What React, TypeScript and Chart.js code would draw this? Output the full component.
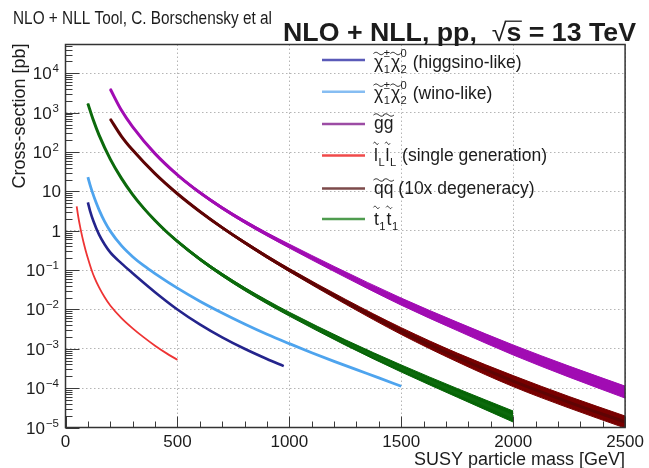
import React, { useEffect, useRef } from "react";
import { Chart, registerables } from "chart.js";

Chart.register(...registerables);

// ---------------- data ----------------
const xTicks = [0, 500, 1000, 1500, 2000, 2500];
const yDecades = [1e-5, 1e-4, 1e-3, 1e-2, 1e-1, 1, 10, 100, 1000, 10000];
const yTickBase = ["10", "10", "10", "10", "10", "1", "10", "10", "10", "10"];
const yTickExp = ["\u22125", "\u22124", "\u22123", "\u22122", "\u22121", "", "", "2", "3", "4"];

// chi1+- chi2^0 higgsino-like
const higgsinoMass = [100, 110, 125, 150, 175, 200, 250, 300, 400, 500, 600, 700, 800, 900, 975];
const higgsinoXsec = [5.25, 3.16, 1.74, 0.794, 0.447, 0.282, 0.148, 0.0832, 0.0275, 0.01, 0.00417, 0.00195, 0.001, 0.00055, 0.000363];

// chi1+- chi2^0 wino-like
const winoMass = [100, 110, 120, 135, 150, 175, 200, 250, 300, 350, 400, 500, 600, 700, 800, 900, 1000, 1100, 1200, 1300, 1400, 1500];
const winoXsec = [22.9, 14.5, 9.55, 5.5, 3.39, 1.7, 0.977, 0.417, 0.219, 0.129, 0.0813, 0.0347, 0.0162, 0.00813, 0.00427, 0.00234, 0.00135, 0.000794, 0.000479, 0.000295, 0.000182, 0.000112];

// gluino pair
const gluinoMass = [200, 250, 300, 400, 500, 600, 700, 800, 900, 1000, 1200, 1500, 1750, 2000, 2250, 2500];
const gluinoXsec = [3981, 1148, 437, 91.2, 26.3, 9.33, 3.8, 1.7, 0.813, 0.407, 0.107, 0.0158, 0.00372, 0.000933, 0.000263, 0.0000794];
const gluinoUnc = [4, 4, 4, 5, 6, 7, 8, 9, 10, 12, 16, 23, 28, 34, 38, 42];

// slepton (single generation)
const sleptonMass = [50, 55, 60, 65, 70, 80, 90, 100, 115, 130, 150, 175, 200, 250, 300, 350, 400, 450, 500];
const sleptonXsec = [4.17, 2.69, 1.82, 1.29, 0.933, 0.525, 0.316, 0.2, 0.107, 0.0631, 0.0363, 0.0204, 0.0126, 0.00603, 0.00331, 0.00195, 0.0012, 0.000776, 0.000525];

// squark pair (10x degeneracy)
const squarkMass = [200, 250, 300, 400, 500, 600, 700, 800, 900, 1000, 1250, 1500, 1750, 2000, 2250, 2500];
const squarkXsec = [692, 251, 112, 28.2, 8.71, 3.09, 1.2, 0.501, 0.219, 0.1, 0.0158, 0.00282, 0.000603, 0.000151, 0.0000437, 0.0000138];
const squarkUnc = [3, 3, 3, 4, 5, 6, 7, 8, 9, 10, 15, 22, 29, 38, 40, 42];

// stop pair
const stopMass = [100, 125, 150, 200, 250, 300, 350, 400, 450, 500, 600, 700, 800, 900, 1000, 1250, 1500, 1750, 2000];
const stopXsec = [1700, 631, 269, 66, 21.4, 8.3, 3.7, 1.82, 0.955, 0.537, 0.19, 0.0759, 0.0331, 0.0155, 0.00759, 0.00145, 0.000316, 0.000076, 0.000019];
const stopUnc = [3, 3, 3, 3, 4, 4, 5, 5, 6, 7, 8, 9, 10, 11, 12, 17, 23, 29, 38];

type Seg = { t: string; tilde?: boolean; sub?: string; sup?: string };
const legendLabels: Seg[][] = [
  [{ t: "\u03c7", tilde: true, sub: "1", sup: "\u00b1" }, { t: "\u03c7", tilde: true, sub: "2", sup: "0" }, { t: " (higgsino-like)" }],
  [{ t: "\u03c7", tilde: true, sub: "1", sup: "\u00b1" }, { t: "\u03c7", tilde: true, sub: "2", sup: "0" }, { t: " (wino-like)" }],
  [{ t: "g", tilde: true }, { t: "g", tilde: true }],
  [{ t: "l", tilde: true, sub: "L" }, { t: "l", tilde: true, sub: "L" }, { t: " (single generation)" }],
  [{ t: "q", tilde: true }, { t: "q", tilde: true }, { t: " (10x degeneracy)" }],
  [{ t: "t", tilde: true, sub: "1" }, { t: "t", tilde: true, sub: "1" }],
];

const FONT = '"Liberation Sans", Arial, Helvetica, sans-serif';
const TXT = "#1c1c1c";

const C = {
  higgsino: "#24248c",
  wino: "#4ea4ee",
  gluino: "#a10cb3",
  slepton: "#ee3434",
  squark: "#5e0404",
  squarkBand: "#780000",
  stop: "#0c6a0c",
  stopBand: "#066406",
};
const legendColors = ["#5a5ab8", "#86bdf2", "#9c4ca4", "#f04a4a", "#7c4a4a", "#4f9c4f"];

// ---------------- helpers ----------------
function xy(m: number[], v: number[], f?: (y: number, i: number) => number) {
  return m.map((x, i) => ({ x, y: f ? f(v[i], i) : v[i] }));
}
function lineDs(m: number[], v: number[], color: string, width: number) {
  return {
    data: xy(m, v),
    borderColor: color,
    backgroundColor: color,
    borderWidth: width,
    pointRadius: 0,
    fill: false,
    cubicInterpolationMode: "monotone",
    borderCapStyle: "butt",
  };
}
function bandDs(m: number[], v: number[], u: number[], color: string) {
  return [
    {
      data: xy(m, v, (y, i) => y * (1 + u[i] / 100)),
      borderColor: color,
      backgroundColor: color,
      borderWidth: 1,
      pointRadius: 0,
      fill: "+1",
      cubicInterpolationMode: "monotone",
    },
    {
      data: xy(m, v, (y, i) => y / (1 + u[i] / 100)),
      borderColor: color,
      backgroundColor: color,
      borderWidth: 1,
      pointRadius: 0,
      fill: false,
      cubicInterpolationMode: "monotone",
    },
  ];
}

function drawTilde(ctx: CanvasRenderingContext2D, x0: number, y0: number, w: number) {
  ctx.save();
  ctx.lineWidth = 1;
  ctx.strokeStyle = TXT;
  ctx.beginPath();
  const n = 14;
  for (let i = 0; i <= n; i++) {
    const px = x0 + (w * i) / n;
    const py = y0 - Math.sin((i / n) * 2 * Math.PI) * 1.2;
    if (i === 0) ctx.moveTo(px, py);
    else ctx.lineTo(px, py);
  }
  ctx.stroke();
  ctx.restore();
}

function drawRich(ctx: CanvasRenderingContext2D, segs: Seg[], x: number, y: number, size: number) {
  let cx = x;
  const small = size * 0.64;
  ctx.textBaseline = "alphabetic";
  ctx.textAlign = "left";
  ctx.fillStyle = TXT;
  for (const s of segs) {
    ctx.font = `${size}px ${FONT}`;
    const w = ctx.measureText(s.t).width;
    ctx.fillText(s.t, cx, y);
    if (s.tilde) {
      const tall = s.t === "l" || s.t === "t";
      drawTilde(ctx, cx - 0.5, y - size * (tall ? 0.98 : 0.8), w + 1);
    }
    cx += w;
    if (s.sub || s.sup) {
      ctx.font = `${small}px ${FONT}`;
      let extra = 0;
      if (s.sub) {
        ctx.fillText(s.sub, cx + 0.5, y + size * 0.3);
        extra = Math.max(extra, ctx.measureText(s.sub).width);
      }
      if (s.sup) {
        ctx.fillText(s.sup, cx + 0.5, y - size * 0.6);
        extra = Math.max(extra, ctx.measureText(s.sup).width);
      }
      cx += extra + 1.5;
    }
  }
}

const decor = {
  id: "decor",
  afterDatasetsDraw(chart: any) {
    const { ctx, chartArea: a, scales } = chart;
    const xs = scales.x;
    const ys = scales.y;
    ctx.save();
    ctx.strokeStyle = "#3a3a3a";
    ctx.lineWidth = 1;
    ctx.beginPath();
    for (let m = 0; m <= 2500; m += 100) {
      const px = Math.round(xs.getPixelForValue(m)) + 0.5;
      const len = m % 500 === 0 ? 11 : 6;
      ctx.moveTo(px, a.bottom);
      ctx.lineTo(px, a.bottom - len);
    }
    for (let e = -5; e <= 4; e++) {
      for (let k = 1; k <= 9; k++) {
        const v = k * Math.pow(10, e);
        if (v > ys.max) break;
        const py = Math.round(ys.getPixelForValue(v)) + 0.5;
        const len = k === 1 ? 14 : 7;
        ctx.moveTo(a.left, py);
        ctx.lineTo(a.left + len, py);
      }
    }
    ctx.stroke();
    ctx.lineWidth = 1.5;
    ctx.strokeStyle = "#333";
    ctx.strokeRect(a.left, a.top, a.right - a.left, a.bottom - a.top);
    ctx.restore();
  },
  afterDraw(chart: any) {
    const { ctx, chartArea: a, scales } = chart;
    const ys = scales.y;
    ctx.save();
    ctx.fillStyle = TXT;

    // y tick labels
    for (let i = 0; i < yDecades.length; i++) {
      const py = ys.getPixelForValue(yDecades[i]);
      ctx.font = `17px ${FONT}`;
      const wb = ctx.measureText(yTickBase[i]).width;
      ctx.font = `11.5px ${FONT}`;
      const we = yTickExp[i] ? ctx.measureText(yTickExp[i]).width + 1 : 0;
      const right = yTickExp[i] ? 59 : 61;
      const x0 = right - wb - we;
      ctx.font = `17px ${FONT}`;
      ctx.textAlign = "left";
      ctx.textBaseline = "alphabetic";
      ctx.fillText(yTickBase[i], x0, py + 6);
      if (yTickExp[i]) {
        ctx.font = `11.5px ${FONT}`;
        ctx.fillText(yTickExp[i], x0 + wb + 1, py - 1);
      }
    }

    // axis titles
    ctx.font = `18px ${FONT}`;
    ctx.textAlign = "right";
    ctx.textBaseline = "alphabetic";
    ctx.fillText("SUSY particle mass [GeV]", a.right, 465);
    ctx.save();
    ctx.translate(25, a.top - 1);
    ctx.rotate(-Math.PI / 2);
    ctx.textAlign = "right";
    ctx.fillText("Cross-section [pb]", 0, 0);
    ctx.restore();

    // top-left text
    ctx.textAlign = "left";
    ctx.font = `18px ${FONT}`;
    ctx.fillText("NLO + NLL Tool, C. Borschensky et al", 13, 24, 259);

    // right title
    const t1 = "NLO + NLL, pp,  ";
    const t2 = "\u221a";
    const t3 = "s";
    const t4 = " = 13 TeV";
    ctx.font = `bold 25px ${FONT}`;
    const w1 = ctx.measureText(t1).width;
    const w3 = ctx.measureText(t3).width;
    const w4 = ctx.measureText(t4).width;
    ctx.font = `25px ${FONT}`;
    const m2 = ctx.measureText(t2);
    const w2 = m2.width;
    const asc = m2.actualBoundingBoxAscent || 18;
    const total = w1 + w2 + w3 + w4;
    const sx = 353 / total;
    ctx.save();
    ctx.translate(283, 40.5);
    ctx.scale(sx, 1);
    ctx.font = `bold 25px ${FONT}`;
    ctx.fillText(t1, 0, 0);
    ctx.font = `25px ${FONT}`;
    ctx.fillText(t2, w1, 0);
    ctx.font = `bold 25px ${FONT}`;
    ctx.fillText(t3, w1 + w2, 0);
    ctx.fillText(t4, w1 + w2 + w3, 0);
    ctx.strokeStyle = TXT;
    ctx.lineWidth = 1.3;
    ctx.beginPath();
    ctx.moveTo(w1 + w2 - 1.5, -asc + 0.7);
    ctx.lineTo(w1 + w2 + w3 + 0.5, -asc + 0.7);
    ctx.stroke();
    ctx.restore();

    // legend
    const rowY = [60, 91.7, 124, 155.5, 188.5, 219];
    const baseOff = [7.5, 7.5, 5, 5, 5.5, 5.5];
    for (let i = 0; i < legendLabels.length; i++) {
      ctx.strokeStyle = legendColors[i];
      ctx.lineWidth = 2.5;
      ctx.beginPath();
      ctx.moveTo(322, rowY[i]);
      ctx.lineTo(365, rowY[i]);
      ctx.stroke();
      drawRich(ctx, legendLabels[i], 374, rowY[i] + baseOff[i], 17.5);
    }
    ctx.restore();
  },
};

export default function App() {
  const ref = useRef<HTMLCanvasElement>(null);
  useEffect(() => {
    const gridOpts = { color: "#b5b5b5", lineWidth: 1, drawTicks: false };
    const chart = new Chart(ref.current as HTMLCanvasElement, {
      type: "line",
      data: {
        datasets: [
          lineDs(higgsinoMass, higgsinoXsec, C.higgsino, 2.6),
          lineDs(winoMass, winoXsec, C.wino, 2.8),
          lineDs(sleptonMass, sleptonXsec, C.slepton, 1.8),
          lineDs(gluinoMass, gluinoXsec, C.gluino, 3),
          lineDs(squarkMass, squarkXsec, C.squark, 3),
          lineDs(stopMass, stopXsec, C.stop, 3),
          ...bandDs(gluinoMass, gluinoXsec, gluinoUnc, C.gluino),
          ...bandDs(squarkMass, squarkXsec, squarkUnc, C.squarkBand),
          ...bandDs(stopMass, stopXsec, stopUnc, C.stopBand),
        ] as any,
      },
      options: {
        responsive: false,
        animation: false,
        devicePixelRatio: 1,
        layout: { padding: { left: 0, right: 19, top: 44.5, bottom: 0 } },
        plugins: {
          legend: { display: false },
          tooltip: { enabled: false },
          title: { display: false },
        },
        scales: {
          x: {
            type: "linear",
            min: 0,
            max: 2500,
            afterBuildTicks: (s: any) => {
              s.ticks = xTicks.map((v) => ({ value: v }));
            },
            ticks: {
              font: { family: FONT, size: 17 },
              color: TXT,
              padding: 5,
              maxRotation: 0,
              autoSkip: false,
              callback: (v: any) => String(v),
            },
            grid: gridOpts,
            border: { display: false, dash: [1.5, 2.5] },
            afterFit: (s: any) => {
              s.height = 40.5;
            },
          },
          y: {
            type: "logarithmic",
            min: 1e-5,
            max: 54000,
            afterBuildTicks: (s: any) => {
              s.ticks = yDecades.map((v) => ({ value: v, major: true }));
            },
            ticks: { display: false },
            grid: gridOpts,
            border: { display: false, dash: [1.5, 2.5] },
            afterFit: (s: any) => {
              s.width = 65.5;
            },
          },
        },
      } as any,
      plugins: [decor],
    });
    return () => chart.destroy();
  }, []);
  return (
    <canvas
      ref={ref}
      width={649}
      height={468}
      style={{ position: "absolute", left: 0, top: 0, display: "block" }}
    />
  );
}
